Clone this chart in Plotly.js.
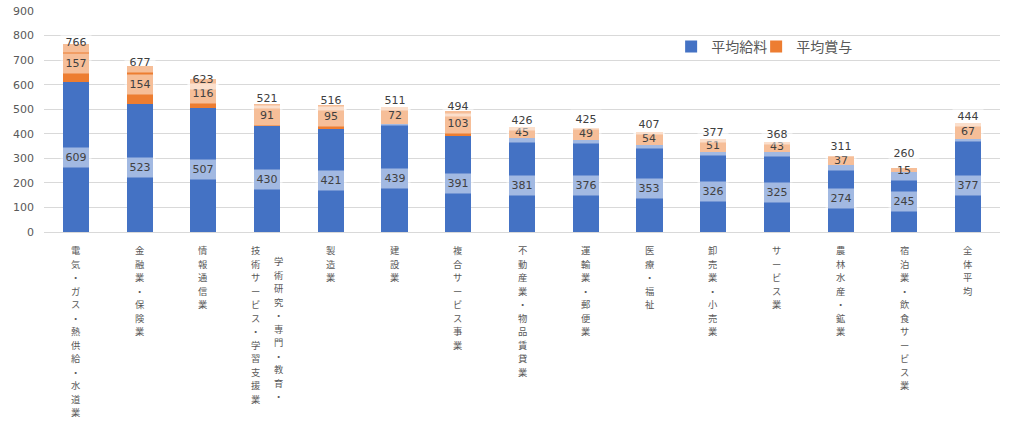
<!DOCTYPE html>
<html>
<head>
<meta charset="utf-8">
<script src="https://cdn.plot.ly/plotly-3.0.1.min.js"></script>
<style>
  html, body { margin: 0; padding: 0; background: #ffffff; }
  #chart { width: 1024px; height: 424px; }
  text.annotation-text[style*="Noto Sans CJK JP, sans-serif"] { font-feature-settings: "vert" 1; }
</style>
</head>
<body>
<div id="chart"></div>
<script>
// ---- data ----
const categories = [
  '電気・ガス・熱供給・水道業',
  '金融業・保険業',
  '情報通信業',
  '学術研究・専門・教育・技術サービス・学習支援業',
  '製造業',
  '建設業',
  '複合サービス事業',
  '不動産業・物品賃貸業',
  '運輸業・郵便業',
  '医療・福祉',
  '卸売業・小売業',
  'サービス業',
  '農林水産・鉱業',
  '宿泊業・飲食サービス業',
  '全体平均'
];
const seriesNames = ['平均給料', '平均賞与'];
const salary = [609, 523, 507, 430, 421, 439, 391, 381, 376, 353, 326, 325, 274, 245, 377];
const bonus  = [157, 154, 116,  91,  95,  72, 103,  45,  49,  54,  51,  43,  37,  15,  67];
const totals = [766, 677, 623, 521, 516, 511, 494, 426, 425, 407, 377, 368, 311, 260, 444];
const yTickVals = [0, 100, 200, 300, 400, 500, 600, 700, 800, 900];

// ---- label placement (where the total labels sit, in axis units) ----
const totalLabelY = [771, 689, 623, 544, 537, 537, 510, 456, 459, 438, 405, 399, 347, 318, 472];

// ---- styles ----
const BLUE = '#4472C4';
const ORANGE = '#ED7D31';
const TXT = '#595959';
const NUM = '#404040';
const FONT = 'Noto Sans CJK JP';
const NUM_FONT = 'DejaVu Sans';
const LABEL_FONT = 'Noto Sans CJK JP, sans-serif';
const LABEL_SIZE = 9.3;
const LINE_TARGET = 13.5;   // px between stacked characters

const xIdx = categories.map((c, i) => i);

const traces = [
  { type: 'bar', name: seriesNames[0], x: xIdx, y: salary,
    marker: { color: BLUE }, hoverinfo: 'skip' },
  { type: 'bar', name: seriesNames[1], x: xIdx, y: bonus,
    marker: { color: ORANGE }, hoverinfo: 'skip' },
  // invisible spacer entry so the fixed-width legend does not clip the second name
  { type: 'scatter', mode: 'markers', name: '\u00a0', x: [null], y: [null],
    marker: { color: 'rgba(0,0,0,0)', size: 1 }, hoverinfo: 'skip', showlegend: true }
];

const annotations = [];
function valueLabel(i, yv, txt) {
  annotations.push({
    x: i, y: yv, xref: 'x', yref: 'y', text: String(txt), showarrow: false,
    xanchor: 'center', yanchor: 'middle',
    font: { family: NUM_FONT, size: 11, color: NUM },
    bgcolor: 'rgba(255,255,255,0.5)', borderpad: 3, width: 24
  });
}
categories.forEach((c, i) => {
  valueLabel(i, salary[i] / 2, salary[i]);
  valueLabel(i, salary[i] + bonus[i] / 2, bonus[i]);
  valueLabel(i, totalLabelY[i], totals[i]);
});

// vertical category labels (one column normally, two columns for long names)
function splitColumns(name) {
  if (name.length <= 14) return [name];
  let best = -1, bestDiff = 1e9;
  for (let k = 0; k < name.length; k++) {
    if (name[k] === '・') {
      const d = Math.abs((k + 1) - name.length / 2);
      if (d < bestDiff) { bestDiff = d; best = k; }
    }
  }
  return [name.slice(0, best + 1), name.slice(best + 1)];
}
categories.forEach((c, i) => {
  const cols = splitColumns(c);
  cols.forEach((col, ci) => {
    let xs = 0, ys = 0;
    if (cols.length === 2) {
      xs = ci === 0 ? 11.5 : -11.5;
      ys = ci === 0 ? 11 : 0;
    }
    annotations.push({
      x: i, y: 0, xref: 'x', yref: 'paper',
      text: Array.from(col).join('<br>'), showarrow: false,
      xanchor: 'center', yanchor: 'top', align: 'center',
      xshift: xs, yshift: -(10 + ys),
      font: { family: LABEL_FONT, size: LABEL_SIZE, color: TXT },
      borderpad: 0
    });
  });
});

const layout = {
  width: 1024, height: 424,
  margin: { l: 44, r: 24, t: 11, b: 192 },
  paper_bgcolor: '#ffffff', plot_bgcolor: '#ffffff',
  barmode: 'stack', bargap: 0.59,
  font: { family: FONT, color: TXT },
  showlegend: true,
  legend: {
    orientation: 'h', traceorder: 'normal',
    x: 0.656, xanchor: 'left', y: 0.837, yanchor: 'middle',
    entrywidth: 40, entrywidthmode: 'pixels',
    font: { family: FONT, size: 14, color: TXT },
    bgcolor: 'rgba(0,0,0,0)'
  },
  xaxis: {
    type: 'linear', range: [-0.5, categories.length - 0.5],
    showticklabels: false, showgrid: false, zeroline: false, showline: false, ticks: ''
  },
  yaxis: {
    range: [0, 900], tickvals: yTickVals, ticktext: yTickVals.map(String),
    showgrid: true, gridcolor: '#d9d9d9', gridwidth: 1,
    zeroline: true, zerolinecolor: '#d9d9d9', zerolinewidth: 1,
    showline: false, ticks: '', ticklabelstandoff: 9,
    tickfont: { family: NUM_FONT, size: 11, color: TXT }
  },
  annotations: annotations
};

function tightenVerticalLabels() {
  const ratio = (LINE_TARGET / LABEL_SIZE) / 1.3;
  document.querySelectorAll('text.annotation-text tspan.line').forEach(t => {
    const dy = t.getAttribute('dy');
    if (dy && !t.dataset.tight) {
      const v = parseFloat(dy);
      if (!isNaN(v)) { t.setAttribute('dy', (v * ratio) + 'em'); t.dataset.tight = '1'; }
    }
  });
}

Plotly.newPlot('chart', traces, layout, { staticPlot: true, displayModeBar: false })
  .then(tightenVerticalLabels);
</script>
</body>
</html>
